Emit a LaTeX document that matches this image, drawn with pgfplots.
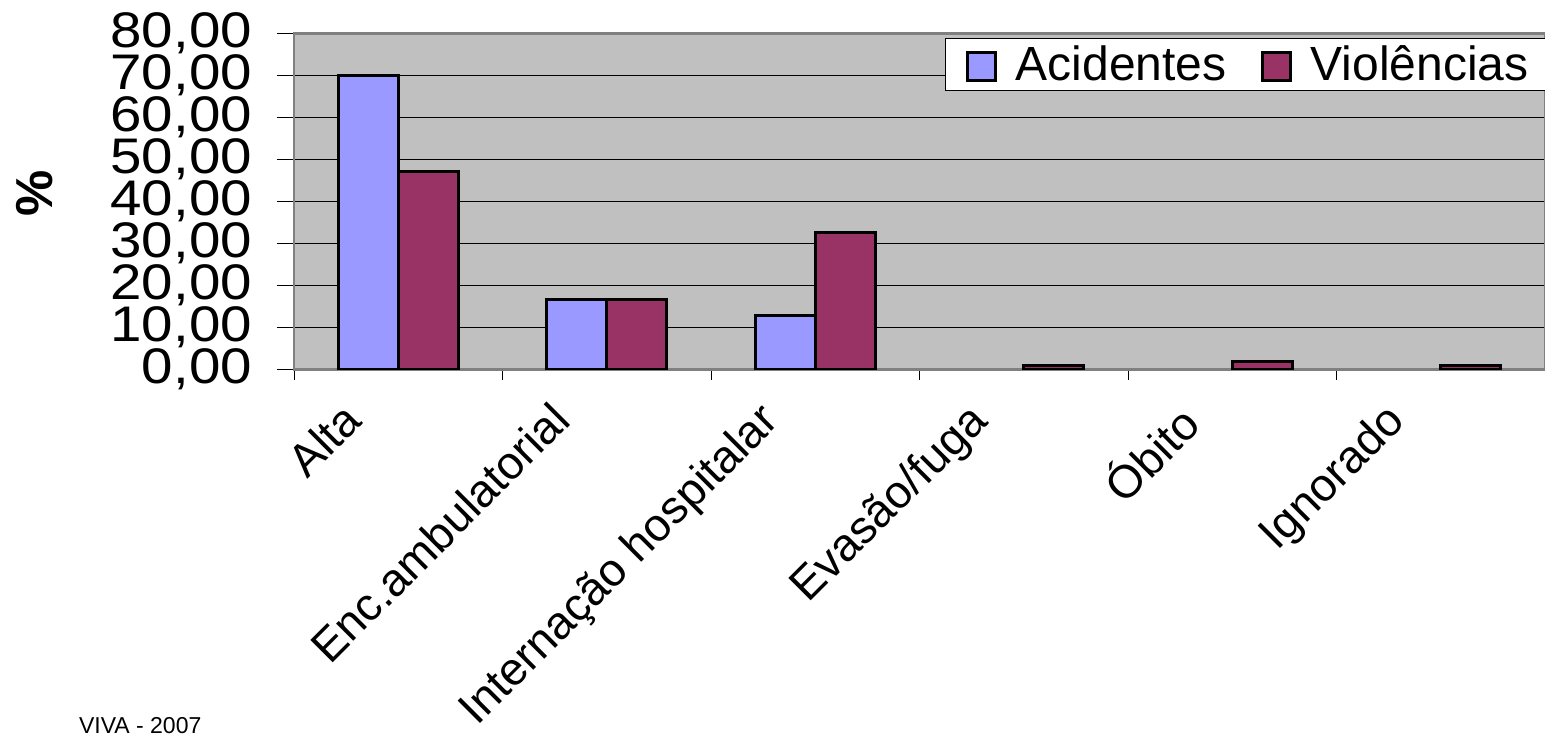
\documentclass[border=0pt]{standalone}
\usepackage{pgfplots}
\pgfplotsset{compat=1.18}
\usepackage{fontspec}
\setmainfont{Liberation Sans}
\newfontfamily\wide[FakeStretch=1.13]{Liberation Sans}
\definecolor{plotbg}{RGB}{192,192,192}
\definecolor{axgray}{RGB}{128,128,128}
\definecolor{acid}{RGB}{153,153,255}
\definecolor{viol}{RGB}{153,51,102}
\begin{document}
\begin{tikzpicture}
\useasboundingbox (0,0) rectangle (772.5pt,370.5pt);
\begin{axis}[
  at={(147pt,185.75pt)}, anchor=south west,
  scale only axis, width=625.5pt, height=168pt,
  xmin=0, xmax=6, ymin=0, ymax=80,
  axis background/.style={fill=plotbg},
  axis line style={draw=axgray, line width=1.2pt},
  ybar, ybar=0pt, bar width=30pt,
  xtick pos=bottom, ytick pos=left,
  xtick={0.5,1.5,2.5,3.5,4.5,5.5},
  xticklabels={Alta,Enc.ambulatorial,Internação hospitalar,Evasão/fuga,Óbito,Ignorado},
  major x tick style={draw=none},
  minor xtick={0,1,2,3,4,5,6},
  minor x tick style={black, line width=0.5pt},
  minor tick length=5pt,
  ytick={0,10,...,80},
  major y tick style={black, line width=0.5pt},
  major tick length=8.5pt,
  tick align=outside,
  ymajorgrids, major grid style={black, line width=0.5pt},
  /pgf/number format/.cd, fixed, fixed zerofill, precision=2, use comma, assume math mode=true,
  /pgfplots/.cd,
  yticklabel style={font=\wide\fontsize{25}{25}\selectfont, xshift=-9pt},
  xticklabel style={font=\fontsize{23}{23}\selectfont, xshift=-29pt, yshift=-1.5pt, rotate=45, anchor=north east},
  ylabel={\textbf{\%}},
  ylabel style={font=\fontsize{26}{26}\selectfont, at={(axis description cs:-0.207,0.525)}, anchor=center},
  legend style={at={(1,1)}, anchor=north east, xshift=4pt, yshift=-2.3pt, draw=black, line width=0.5pt, fill=white,
    font=\fontsize{24}{24}\selectfont, inner ysep=1.5pt, inner xsep=10pt,
    /tikz/every odd column/.append style={column sep=7.5pt},
    /tikz/every even column/.append style={column sep=15pt}},
  legend columns=2,
  legend image code/.code={\draw[#1, line width=1.5pt] (0pt,-8pt) rectangle (14pt,6pt);},
]
\addplot[fill=acid, draw=black, line width=1.5pt] coordinates {(0.5,70.0) (1.5,16.7) (2.5,12.8)};
\addplot[fill=viol, draw=black, line width=1.5pt] coordinates {(0.5,47.1) (1.5,16.7) (2.5,32.7) (3.5,0.9) (4.5,1.9) (5.5,0.9)};
\legend{Acidentes,Violências}
\end{axis}
\node[anchor=base west, font=\fontsize{11.5}{12}\selectfont] at (36pt,4pt) {VIVA - 2007};
\end{tikzpicture}
\end{document}
